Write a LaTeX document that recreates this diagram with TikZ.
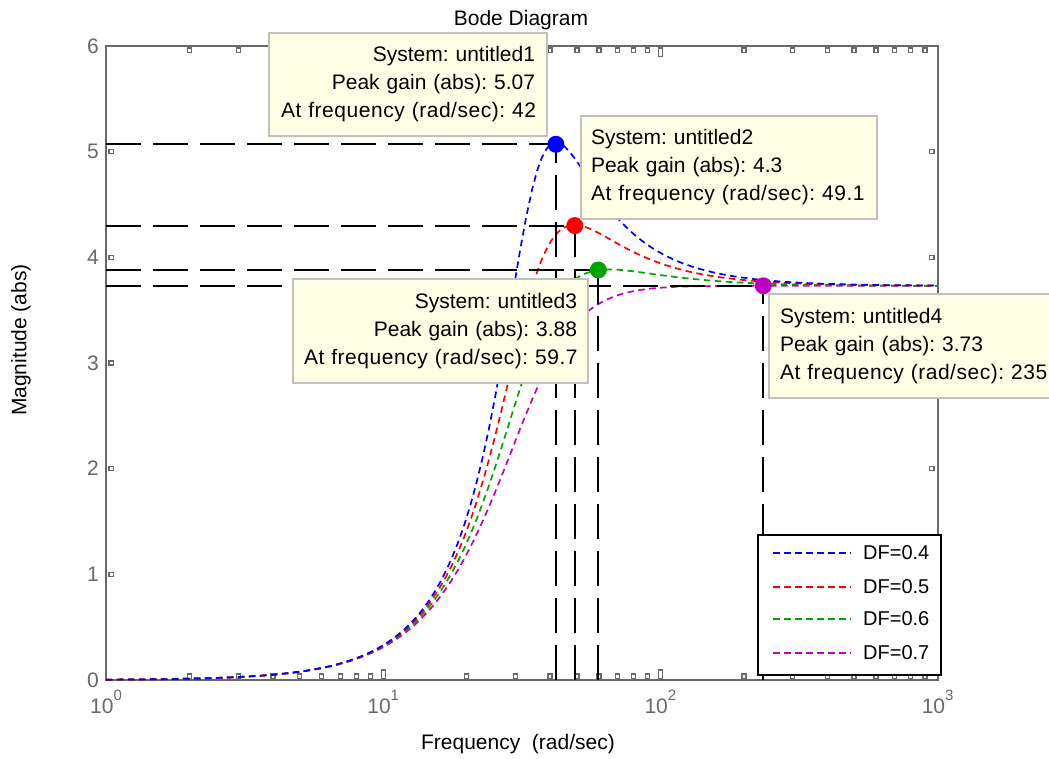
\documentclass[tikz,border=0pt]{standalone}
\usepackage{fontspec}
\setmainfont{Liberation Sans}
\definecolor{axgray}{RGB}{105,105,105}
\definecolor{boxfill}{RGB}{255,255,229}
\definecolor{boxedge}{RGB}{192,192,192}
\definecolor{cblue}{RGB}{0,0,255}
\definecolor{cred}{RGB}{255,0,0}
\definecolor{cgreen}{RGB}{0,165,0}
\definecolor{cmag}{RGB}{191,0,191}
\newcommand{\wideline}[1]{{\addfontfeatures{LetterSpace=2.5}#1}}
\begin{document}
\frenchspacing
\begin{tikzpicture}[x=1pt,y=-1pt,
  declare function={
    uu(\t)=exp(4.60517*(\t-1.539));
    vv(\t)=exp(4.60517*(1.539-\t));
    glo(\t,\z)=uu(\t)/sqrt((1-uu(\t))*(1-uu(\t))+4*\z*\z*uu(\t));
    ghi(\t,\z)=1/sqrt((1-vv(\t))*(1-vv(\t))+4*\z*\z*vv(\t));
  },
  curve/.style={line width=1.7pt, dash pattern=on 6.5pt off 4.5pt},
  peakline/.style={line width=2pt, dash pattern=on 35pt off 12pt, black},
  peak/.style={circle, inner sep=0pt, minimum size=17pt},
  tip/.style={draw=boxedge, line width=1.5pt, fill=boxfill, inner ysep=0pt,
    minimum height=103pt, font=\fontsize{21}{28}\selectfont},
  ticksq/.style={draw=axgray, line width=1.4pt, fill=white},
  ticklab/.style={text=axgray, font=\fontsize{21}{25}\selectfont, inner sep=0pt},
  lab/.style={font=\fontsize{21}{25}\selectfont, inner sep=0pt},
  legtext/.style={font=\fontsize{20}{24}\selectfont, inner sep=0pt, anchor=west}
]
\useasboundingbox (0,0) rectangle (1049,758);
\clip (0,0) rectangle (1049,758);

% axes
\coordinate (bl) at (106,680);
\coordinate (tr) at (937.5,46);
\draw[axgray, line width=2pt] (bl) rectangle (tr);

% ticks
\foreach \k in {0,1,2}{
  \foreach \m in {0.30103,0.47712,0.60206,0.69897,0.77815,0.84510,0.90309,0.95424}{
    \draw[ticksq] ({106+277.2*(\k+\m)-2},674) rectangle ++(4,4.5);
    \draw[ticksq] ({106+277.2*(\k+\m)-2},48) rectangle ++(4,4.5);
  }
}
\foreach \k in {1,2}{
  \draw[ticksq] ({106+277.2*\k-2},670) rectangle ++(4,8.5);
  \draw[ticksq] ({106+277.2*\k-2},48) rectangle ++(4,8.5);
}
\foreach \v in {1,...,5}{
  \draw[ticksq] (109,{680-105.67*\v-2}) rectangle ++(4.5,4);
  \draw[ticksq] (929.5,{680-105.67*\v-2}) rectangle ++(4.5,4);
}

% tick labels
\foreach \v in {0,...,6}
  \node[ticklab, anchor=east] (yl\v) at (99,{680-105.67*\v}) {\v};
\foreach \k/\xx in {0/106,1/383.2,2/660.4,3/937.6}
  \node[ticklab, anchor=base] (xl\k) at (\xx,713) {10\raisebox{13pt}{\fontsize{15}{15}\selectfont\k}};

% curves
\foreach \z/\c in {0.7/cmag,0.6/cgreen,0.5/cred,0.4/cblue}{
  \draw[curve, \c] plot[domain=0:1.539, samples=70] ({106+277.2*\x},{680-394.15*glo(\x,\z)})
    -- plot[domain=1.539:3, samples=90] ({106+277.2*\x},{680-394.15*ghi(\x,\z)});
}

% peaks
\coordinate (pk1) at (555.9,144.3);
\coordinate (pk2) at (574.8,225.6);
\coordinate (pk3) at (598.3,270.0);
\coordinate (pk4) at (763.3,285.8);
\foreach \p in {pk1,pk2,pk3,pk4}{
  \draw[peakline] (\p -| bl) -- (\p);
  \draw[peakline] (\p |- bl) -- (\p);
}
\node[peak, fill=cblue] (m1) at (pk1) {};
\node[peak, fill=cred] (m2) at (pk2) {};
\node[peak, fill=cgreen] (m3) at (pk3) {};
\node[peak, fill=cmag] (m4) at (pk4) {};

% data tips
\node[tip, text width=254pt, align=right, inner xsep=12pt, minimum width=278pt] (tip1) at (408,84.5)
  {System: untitled1\\Peak gain (abs): 5.07\\\wideline{At frequency (rad/sec): 42}};
\node[tip, text width=276pt, align=left, inner xsep=10pt, minimum width=296pt] (tip2) at (729,167.5)
  {System: untitled2\\Peak gain (abs): 4.3\\\wideline{At frequency (rad/sec): 49.1}};
\node[tip, text width=273pt, align=right, inner xsep=11pt, minimum width=295pt, minimum height=104pt] (tip3) at (440.5,331)
  {System: untitled3\\Peak gain (abs): 3.88\\\wideline{At frequency (rad/sec): 59.7}};
\node[tip, text width=278pt, align=left, inner xsep=11pt, minimum width=300pt, minimum height=104pt] (tip4) at (919,346)
  {System: untitled4\\Peak gain (abs): 3.73\\\wideline{At frequency (rad/sec): 235}};

% legend
\node[draw=black, line width=2pt, fill=white, minimum width=183pt, minimum height=140pt, inner sep=0pt] (leg) at (849.5,605) {};
\foreach \yy/\c/\t [count=\i] in {553/cblue/0.4,587/cred/0.5,619/cgreen/0.6,653/cmag/0.7}{
  \draw[curve, \c] (773,\yy) -- (851,\yy);
  \node[legtext] (lt\i) at (863,\yy) {DF=\t};
}

% labels
\node[lab, anchor=base] (title) at (521,25) {Bode Diagram};
\node[lab, rotate=90] (ylab) at (21,340) {Magnitude (abs)};
\node[lab, anchor=base] (xlab) at (518,749) {Frequency~~(rad/sec)};
\end{tikzpicture}
\end{document}
